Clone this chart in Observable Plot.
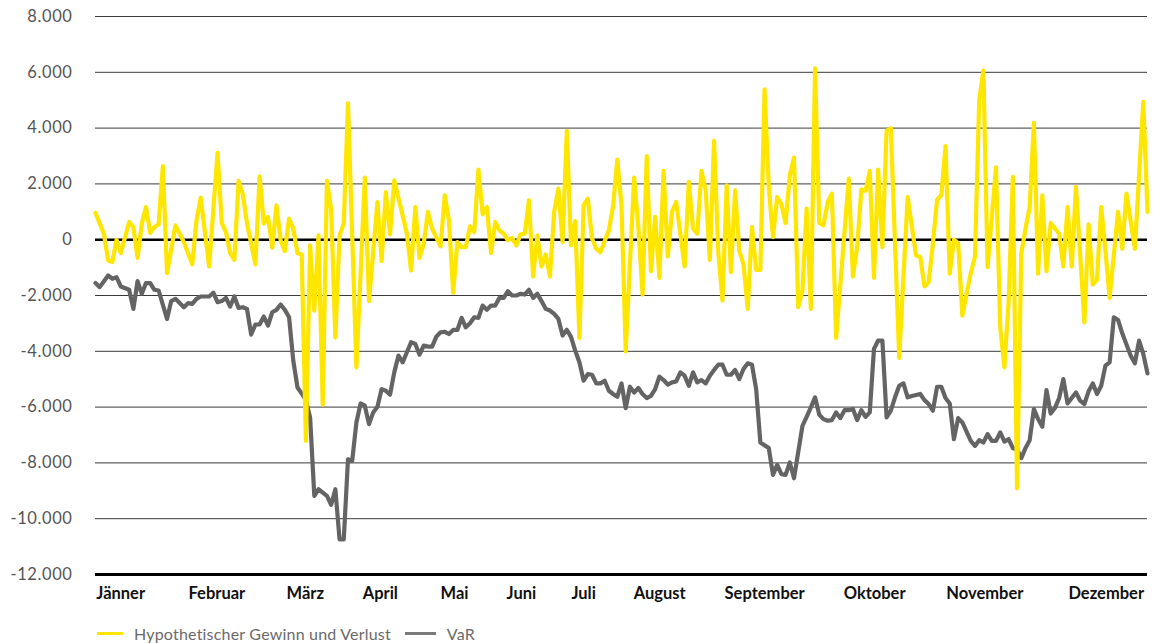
<!DOCTYPE html>
<html>
<head>
<meta charset="utf-8">
<script src="https://cdn.jsdelivr.net/npm/d3@7"></script>
<script src="https://cdn.jsdelivr.net/npm/@observablehq/plot@0.6"></script>
<style>
  html, body { margin: 0; padding: 0; background: #fff; }
  #chart svg { font-family: Lato, "Open Sans", sans-serif; display: block; }
  #chart svg g[aria-label="y-axis tick label"] text { letter-spacing: 0.6px; }
  .legend { display: flex; align-items: center; height: 20px; padding: 8px 0 0 97px;
            font-family: Lato, sans-serif; font-size: 16px; color: #6a6a6a; letter-spacing: 0.2px; }
  .legend .sw { display: inline-block; width: 26px; height: 3px; margin-right: 11px; }
  .legend .item { display: flex; align-items: center; margin-right: 14px; }
</style>
</head>
<body>
<div id="chart"></div>
<div class="legend">
  <span class="item"><span class="sw" style="background:#FFE600"></span><span id="l1"></span></span>
  <span class="item"><span class="sw" style="background:#7a7a7a; width:31px"></span><span id="l2"></span></span>
</div>
<script>
const seriesNames = ["Hypothetischer Gewinn und Verlust", "VaR"];
const monthLabels = ["Jänner","Februar","März","April","Mai","Juni","Juli","August","September","Oktober","November","Dezember"];
const monthStartDays = [0.2, 22.1, 45.4, 63.5, 82, 97.7, 113.1, 127.9, 149.5, 177.8, 202.2, 231.2];
const yTicks = [-12000,-10000,-8000,-6000,-4000,-2000,0,2000,4000,6000,8000];

const pnlDays = [0,2,3,4,5,6,8,9,10,11,12,13,14,15,16,17,19,20,21,23,24,25,27,29,30,31,32,33,34,35,36,38,39,40,41,42,43,44,45,46,47,48,49,50,51,52,53,54,55,56,57,58,59,60,62,64,65,67,68,69,70,71,74,75,76,77,78,79,80,82,83,84,85,86,87,88,89,90,91,92,93,94,95,96,97,98,99,100,101,102,103,104,105,106,107,108,109,110,111,112,113,114,115,116,117,118,119,120,122,123,124,125,126,128,129,130,131,132,133,134,135,136,137,138,140,141,142,143,144,145,146,147,148,149,150,151,152,153,154,155,156,157,158,159,160,161,162,163,164,165,166,167,168,169,170,171,172,173,174,175,176,179,180,181,182,183,184,185,186,187,188,189,191,193,195,196,197,198,199,200,201,202,203,204,205,206,208,209,210,211,212,214,215,216,217,218,219,220,221,222,223,224,225,226,227,229,230,231,232,233,235,236,237,238,239,240,241,243,244,245,247,249,250];
const pnlValues = [960,215,-740,-800,0,-480,635,455,-650,575,1170,240,455,550,2635,-1200,515,215,-85,-885,695,1510,-960,3110,600,275,-480,-720,2110,1630,600,-885,2275,575,815,-290,1230,-25,-410,755,395,-480,-530,-7210,-205,-2540,155,-5915,2110,1080,-3500,155,575,4890,-4575,2230,-2200,1350,-765,1710,190,2130,215,-1100,1170,-650,-145,995,395,-240,1590,695,-1900,-85,-265,-265,480,275,2515,910,1175,-480,635,335,215,-25,70,-205,190,215,1415,-1320,155,-960,-530,-1320,995,1830,-85,3905,-205,670,-3520,1230,1470,35,-325,-445,335,1200,2875,1230,-4000,2230,455,-1965,2995,-1125,815,-1365,2465,-600,995,1350,-960,2070,395,215,2465,1770,-720,3545,-445,-2180,1950,-1160,1770,-410,-885,-2480,455,-1080,-1080,5390,1890,95,1530,1270,600,2310,2945,-2420,-1820,1115,-2480,6145,600,515,1350,1650,-3520,2190,-1320,-265,1800,1750,2465,-1365,2515,-265,3905,3990,-4240,1530,-565,-620,-1675,-1520,-145,1435,1590,3355,-1220,0,-120,-2720,-1200,-600,4980,6060,-980,2590,-3140,-4575,-2180,2250,-8910,-505,395,1170,4190,-1220,1590,-1125,600,215,-960,1170,-960,1890,-2960,550,-1605,-1440,1170,-385,-2085,995,-325,1650,-325,4945,995];

const varDays = [0,1,3,4,5,6,8,9,10,11,12,13,14,15,17,18,19,21,22,23,24,25,27,28,29,30,31,32,33,34,35,36,37,38,39,40,41,42,43,44,45,46,47,48,49,50,51,52,53,54,55,56,57,58,59,60,61,62,63,64,65,66,67,68,69,70,71,72,73,74,75,76,77,78,79,80,81,82,83,84,85,86,87,88,89,90,91,92,93,94,95,96,97,98,99,100,101,102,103,104,105,106,107,108,109,110,111,112,113,114,115,116,117,118,119,120,121,122,123,124,125,126,127,128,129,130,131,132,133,134,135,136,137,138,139,140,141,142,143,144,145,146,147,148,149,150,151,152,153,154,155,156,157,158,160,161,162,163,164,165,166,168,169,170,171,172,173,174,175,176,177,178,179,180,181,182,183,184,185,186,187,188,189,190,191,192,193,194,196,197,198,199,200,201,202,203,204,205,206,207,208,209,210,211,212,213,214,215,216,217,218,219,220,221,222,223,224,225,226,227,228,229,230,231,232,233,234,235,236,237,238,239,240,241,242,243,244,246,247,248,249,250];
const varValues = [-1555,-1700,-1280,-1400,-1340,-1675,-1795,-2480,-1485,-1940,-1555,-1555,-1795,-1820,-2840,-2200,-2120,-2420,-2275,-2300,-2120,-2035,-2035,-1900,-2240,-2200,-2085,-2395,-2035,-2445,-2420,-2480,-3400,-3040,-3040,-2755,-3075,-2600,-2515,-2325,-2515,-2780,-4335,-5295,-5510,-5750,-6370,-9185,-8945,-9065,-9185,-9500,-8945,-10740,-10740,-7870,-7930,-6550,-5870,-5950,-6610,-6190,-5990,-5355,-5415,-5555,-4755,-4155,-4395,-4035,-3675,-3735,-4120,-3795,-3830,-3830,-3475,-3320,-3300,-3380,-3235,-3235,-2800,-3140,-2995,-2780,-2800,-2360,-2515,-2360,-2360,-2085,-2085,-1845,-2000,-2000,-1940,-1965,-1795,-2085,-1940,-2200,-2480,-2540,-2660,-2840,-3435,-3230,-3480,-3975,-4395,-5055,-4815,-4840,-5150,-5150,-5055,-5415,-5530,-5630,-5150,-6035,-5270,-5475,-5315,-5530,-5675,-5595,-5355,-4910,-5030,-5195,-5115,-5080,-4755,-4875,-5235,-4755,-5115,-5030,-5150,-4875,-4670,-4480,-4480,-4840,-4840,-4670,-4995,-4635,-4430,-4480,-5355,-7270,-7470,-8430,-8070,-8405,-8430,-7985,-8550,-6670,-6350,-6010,-5650,-6275,-6430,-6490,-6465,-6190,-6395,-6110,-6110,-6070,-6465,-6110,-6350,-6190,-3915,-3615,-3615,-6370,-6130,-5650,-5235,-5150,-5650,-5600,-5530,-5750,-5890,-6130,-5270,-5270,-5675,-5870,-7150,-6395,-6550,-6875,-7210,-7390,-7185,-7270,-6970,-7210,-7210,-6910,-7235,-7150,-7470,-7510,-7830,-7470,-7185,-6070,-6430,-6705,-5390,-6230,-6035,-5675,-4995,-5870,-5675,-5475,-5770,-5890,-5435,-5150,-5530,-5235,-4515,-4395,-2780,-2875,-3355,-4155,-4430,-3615,-4095,-4790];

const pnl = pnlDays.map((d, i) => ({day: d, value: pnlValues[i]}));
const vaR = varDays.map((d, i) => ({day: d, value: varValues[i]}));
const months = monthLabels.map((m, i) => ({day: monthStartDays[i], name: m}));

const loc = d3.formatLocale({decimal: ",", thousands: ".", grouping: [3], currency: ["", "€"], minus: "-"});
const fmt = loc.format(",");

const chart = Plot.plot({
  width: 1153,
  height: 615,
  marginLeft: 95,
  marginRight: 6,
  marginTop: 16,
  marginBottom: 41,
  x: {domain: [0, 250], axis: null},
  y: {domain: [-12000, 8000], axis: null},
  marks: [
    Plot.ruleY(yTicks.filter(t => t !== 0 && t !== -12000), {stroke: "#3a3a3a", strokeWidth: 1}),
    Plot.ruleY([0], {stroke: "#000", strokeWidth: 2.5}),
    Plot.ruleY([-12000], {stroke: "#000", strokeWidth: 3}),
    Plot.line(vaR, {x: "day", y: "value", stroke: "#646464", strokeWidth: 4.2, strokeLinejoin: "round"}),
    Plot.line(pnl, {x: "day", y: "value", stroke: "#FFE600", strokeWidth: 4.2, strokeLinejoin: "round"}),
    Plot.axisY({ticks: yTicks, tickSize: 0, tickPadding: 23, tickFormat: fmt, fontSize: 16.5, fill: "#555", label: null}),
    Plot.text(months, {x: "day", text: "name", frameAnchor: "bottom", dy: 24, textAnchor: "start",
                       fontSize: 16.5, fontWeight: 700, fill: "#111"})
  ]
});
document.getElementById("chart").appendChild(chart);
document.getElementById("l1").textContent = seriesNames[0];
document.getElementById("l2").textContent = seriesNames[1];
</script>
</body>
</html>
